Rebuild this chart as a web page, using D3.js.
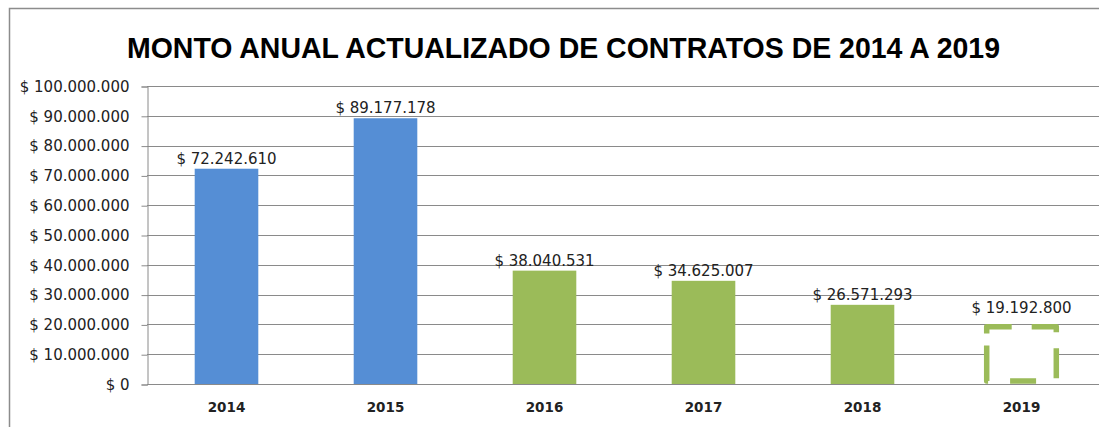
<!DOCTYPE html>
<html>
<head>
<meta charset="utf-8">
<script src="https://cdn.jsdelivr.net/npm/d3@7"></script>
<style>
  body { margin: 0; background: #fff; }
  svg { display: block; }
</style>
</head>
<body>
<div class="chart"></div>
<script>
// datos
const years = ["2014", "2015", "2016", "2017", "2018", "2019"];
const montos = [72242610, 89177178, 38040531, 34625007, 26571293, 19192800];
const tipo = ["real", "real", "green", "green", "green", "projected"];
const yTicks = [0, 10000000, 20000000, 30000000, 40000000, 50000000, 60000000, 70000000, 80000000, 90000000, 100000000];

const width = 1099;
const height = 427;
const margin = {top: 86, bottom: 43, left: 147, right: -2};

const svg = d3.select(".chart").append("svg")
    .attr("width", width)
    .attr("height", height);

// marco exterior
svg.append("rect")
    .attr("x", 9.5).attr("y", 8.5)
    .attr("width", width + 20).attr("height", height + 20)
    .attr("fill", "none")
    .attr("stroke", "#8c8c8c")
    .attr("stroke-width", 1.5);

// formato 1.000.000
const fmt = d3.formatLocale({decimal: ",", thousands: ".", grouping: [3], currency: ["$ ", ""]});
const pesos = v => "$ " + fmt.format(",")(v);

const xScale = d3.scaleBand()
    .domain(years)
    .range([margin.left, width - margin.right])
    .paddingInner(0.6)
    .paddingOuter(0.3);

const yScale = d3.scaleLinear()
    .domain([0, 100000000])
    .range([height - margin.bottom, margin.top]);

// lineas de grilla
svg.append("g").selectAll("line").data(yTicks)
    .enter().append("line")
    .attr("x1", margin.left).attr("x2", width)
    .attr("y1", d => Math.round(yScale(d)) + 0.5)
    .attr("y2", d => Math.round(yScale(d)) + 0.5)
    .attr("stroke", "#8a8a8a")
    .attr("stroke-width", 1);

// eje y
const yAxis = svg.append("g")
    .attr("transform", "translate(" + (margin.left + 0.5) + ",0.5)")
    .call(d3.axisLeft(yScale).tickValues(yTicks).tickFormat(pesos).tickSize(6).tickPadding(12));
yAxis.select(".domain").attr("stroke", "#8a8a8a");
yAxis.selectAll(".tick line").attr("stroke", "#8a8a8a");
yAxis.selectAll("text")
    .attr("font-family", "DejaVu Sans, Verdana, sans-serif")
    .attr("font-size", 15)
    .attr("fill", "#222");

// eje x
const xAxis = svg.append("g")
    .attr("transform", "translate(0," + (height - margin.bottom) + ")")
    .call(d3.axisBottom(xScale).tickSize(0).tickPadding(18));
xAxis.select(".domain").remove();
xAxis.selectAll("text")
    .attr("font-family", "DejaVu Sans, Verdana, sans-serif")
    .attr("font-weight", "bold")
    .attr("font-size", 13.5)
    .attr("fill", "#222");

const datos = years.map((y, i) => ({year: y, value: montos[i], tipo: tipo[i]}));
const colores = {real: "#558ed5", green: "#9bbb59", projected: "#9bbb59"};

// barras (2019 con borde punteado)
svg.append("g").selectAll("rect").data(datos)
    .enter().append("rect")
    .attr("x", d => xScale(d.year) + (d.tipo === "projected" ? -3 : 0))
    .attr("y", d => yScale(d.value))
    .attr("width", d => xScale.bandwidth() + (d.tipo === "projected" ? 6 : 0))
    .attr("height", d => yScale(0) - yScale(d.value) - (d.tipo === "projected" ? 3 : 0))
    .attr("fill", d => d.tipo === "projected" ? "#fff" : colores[d.tipo])
    .attr("stroke", d => d.tipo === "projected" ? colores[d.tipo] : "none")
    .attr("stroke-width", 5.5)
    .attr("stroke-linejoin", "round")
    .attr("stroke-dasharray", d => d.tipo === "projected" ? "25,20,30,16,30,23,26,22,37,12,7,10" : null);

// etiquetas de valor
svg.append("g").selectAll("text").data(datos)
    .enter().append("text")
    .attr("x", d => xScale(d.year) + xScale.bandwidth() / 2)
    .attr("y", d => yScale(d.value) - (d.tipo === "projected" ? 14 : 5))
    .attr("text-anchor", "middle")
    .attr("font-family", "DejaVu Sans, Verdana, sans-serif")
    .attr("font-size", 15)
    .attr("fill", "#222")
    .text(d => pesos(d.value));

// titulo
svg.append("text")
    .attr("x", 127)
    .attr("y", 58)
    .attr("font-family", "Liberation Sans Narrow, Arial Narrow, sans-serif")
    .attr("font-weight", "bold")
    .attr("font-size", 30)
    .attr("textLength", 873)
    .attr("lengthAdjust", "spacingAndGlyphs")
    .attr("fill", "#000")
    .text("MONTO ANUAL ACTUALIZADO DE CONTRATOS DE 2014  A 2019");
</script>
</body>
</html>
